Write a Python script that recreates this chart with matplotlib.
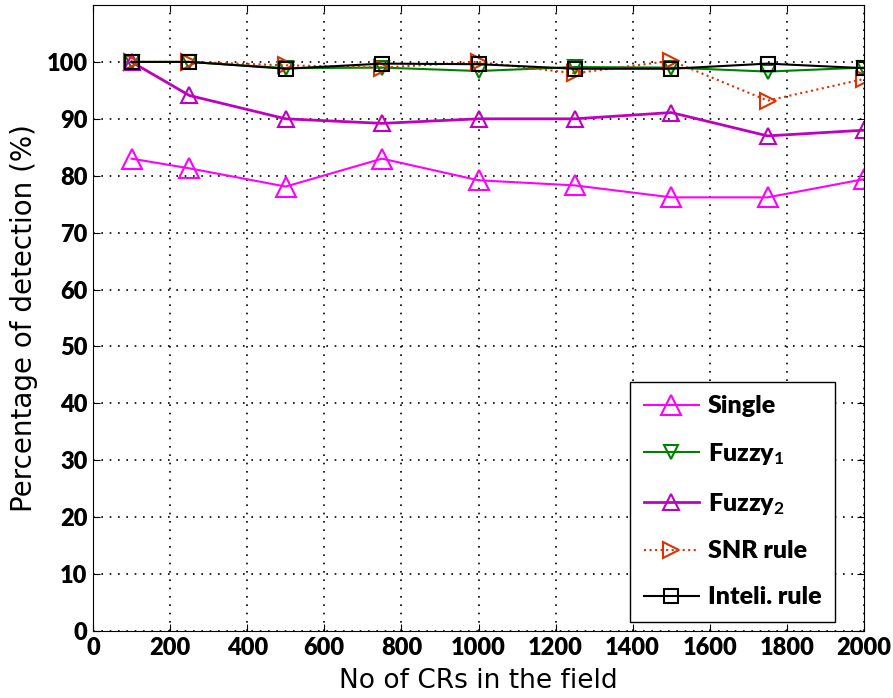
import matplotlib
matplotlib.use("Agg")
import matplotlib.pyplot as plt

x_vals = [100, 250, 500, 750, 1000, 1250, 1500, 1750, 2000]
single = [83, 81.3, 78.1, 83, 79.2, 78.3, 76.2, 76.2, 79.4]
fuzzy1 = [100, 100, 98.9, 99, 98.4, 99.1, 99, 98.3, 99]
fuzzy2 = [100, 94.1, 90, 89.2, 90, 90, 91.1, 87, 88]
snr_rule = [100, 100, 99.4, 99, 100, 98, 100.2, 93.2, 97]
inteli = [100, 100, 98.8, 99.7, 99.6, 98.8, 98.8, 99.7, 98.9]

labels = ["Single", "Fuzzy$_1$", "Fuzzy$_2$", "SNR rule", "Inteli. rule"]
xticks = list(range(0, 2001, 200))
yticks = list(range(0, 101, 10))

fam = "Lato"
plt.rcParams['font.family'] = [fam, 'DejaVu Sans']
plt.rcParams['mathtext.fontset'] = 'custom'
plt.rcParams['mathtext.rm'] = fam + ':bold'
plt.rcParams['mathtext.it'] = fam + ':bold'
plt.rcParams['mathtext.bf'] = fam + ':bold'

fig = plt.figure(figsize=(8.93, 6.98), dpi=100)
ax = fig.add_axes([93/893, 1-631/698, (864-93)/893, (631-5)/698])

ax.plot(x_vals, single, color='#ff00ff', marker='^', ms=15, mfc='none', mew=1.5, lw=1.5, label=labels[0])
ax.plot(x_vals, fuzzy1, color='#008000', marker='v', ms=9.5, mfc='none', mew=1.5, lw=1.5, label=labels[1])
ax.plot(x_vals, fuzzy2, color='#c000c0', marker='^', ms=12, mfc='none', mew=1.5, lw=2, label=labels[2])
ax.plot(x_vals, snr_rule, color='#e03000', marker='>', ms=12, mfc='none', mew=1.5, lw=1.5, ls=':', label=labels[3])
ax.plot(x_vals, inteli, color='black', marker='s', ms=9.5, mfc='none', mew=1.5, lw=1.5, label=labels[4])

ax.set_xlim(0, 2000)
ax.set_ylim(0, 110)
ax.set_xticks(xticks)
ax.set_yticks(yticks)
ax.tick_params(labelsize=17, direction='in', length=5, top=True, right=True, pad=4)
for t in ax.get_xticklabels() + ax.get_yticklabels():
    t.set_fontweight('heavy')
ax.grid(True, color='black', ls=(0, (1, 4)), lw=1.2)
ax.set_xlabel("No of CRs in the field", fontsize=19, labelpad=7, family='DejaVu Sans')
ax.set_ylabel("Percentage of detection (%)", fontsize=20, labelpad=6, family='DejaVu Sans')

leg = ax.legend(loc='lower right', bbox_to_anchor=((835-93)/771, (631-622)/626),
                prop={'size': 18, 'weight': 'heavy'},
                fancybox=False, edgecolor='black', framealpha=1, labelspacing=0.95,
                handlelength=2.2, handletextpad=0.35, borderpad=0.55, borderaxespad=0)
leg.get_frame().set_linewidth(1)

fig.savefig("out.png", dpi=100)
